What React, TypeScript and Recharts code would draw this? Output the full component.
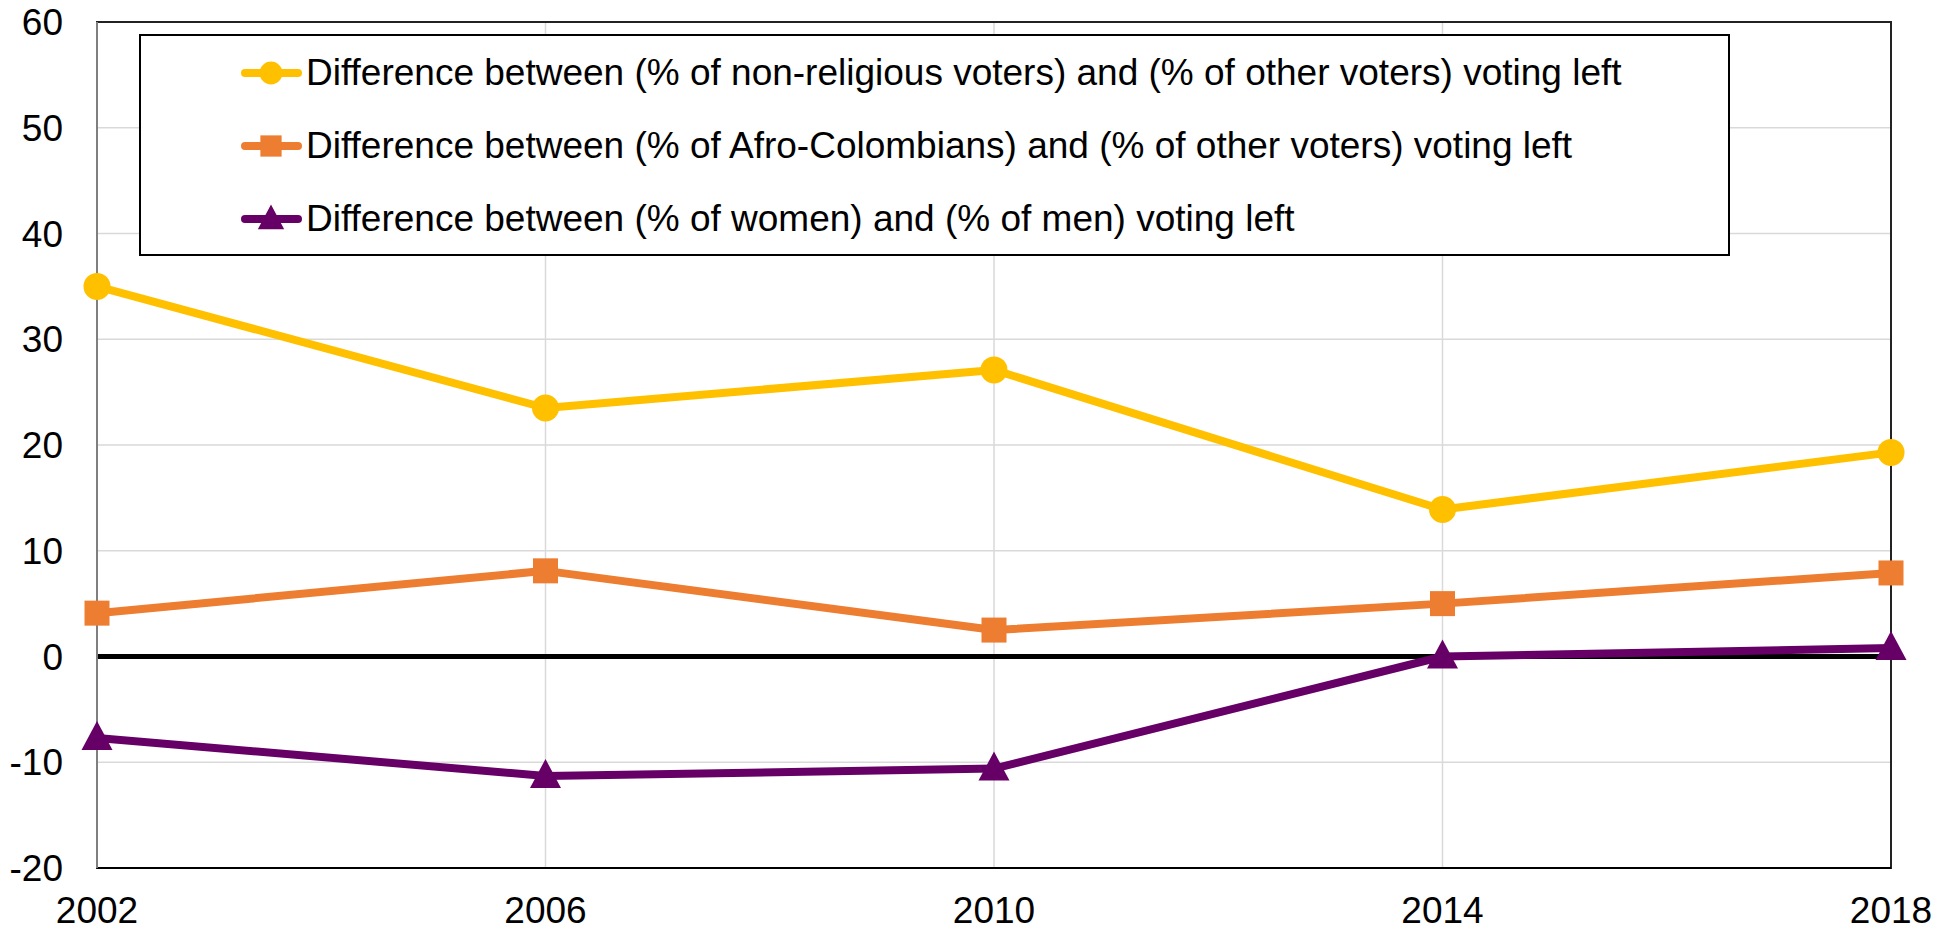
import React from 'react';
import {
  LineChart,
  Line,
  XAxis,
  YAxis,
  CartesianGrid,
  ReferenceLine,
  ReferenceArea,
  Legend,
} from 'recharts';

const years = [2002, 2006, 2010, 2014, 2018];
const nonReligious = [35, 23.5, 27.1, 13.9, 19.3];
const afroColombians = [4.1, 8.1, 2.5, 5.0, 7.9];
const women = [-7.7, -11.3, -10.6, 0.0, 0.8];
const yTicks = [-20, -10, 0, 10, 20, 30, 40, 50, 60];

const seriesNames = [
  'Difference between (% of non-religious voters) and (% of other voters) voting left',
  'Difference between (% of Afro-Colombians) and (% of other voters) voting left',
  'Difference between (% of women) and (% of men) voting left',
];
const seriesColors = ['#FFC000', '#ED7D31', '#660066'];
const seriesKeys = ['nonReligious', 'afro', 'women'];

const data = years.map((year, i) => ({
  year,
  nonReligious: nonReligious[i],
  afro: afroColombians[i],
  women: women[i],
}));

const FONT = '"Liberation Sans", Arial, sans-serif';

// marker shapes, same look as the Excel original
function Marker({ kind, cx, cy, color, s = 1 }: { kind: number; cx: number; cy: number; color: string; s?: number }) {
  if (kind === 0) return <circle cx={cx} cy={cy} r={13.5 * s} fill={color} />;
  if (kind === 1) return <rect x={cx - 12.5 * s} y={cy - 12.5 * s} width={25 * s} height={25 * s} fill={color} />;
  return (
    <polygon
      points={`${cx},${cy - 17 * s} ${cx - 15.5 * s},${cy + 12 * s} ${cx + 15.5 * s},${cy + 12 * s}`}
      fill={color}
    />
  );
}

const LegendBox = () => (
  <div
    style={{
      width: '100%',
      height: '100%',
      boxSizing: 'border-box',
      border: '2px solid #000',
      background: '#fff',
      fontFamily: FONT,
    }}
  >
    {seriesNames.map((name, i) => (
      <div key={name} style={{ height: 73, display: 'flex', alignItems: 'center' }}>
        <svg width={61} height={40} style={{ marginLeft: 100, marginRight: 4, flexShrink: 0 }}>
          <line x1={4} y1={20} x2={57} y2={20} stroke={seriesColors[i]} strokeWidth={8} strokeLinecap="round" />
          <Marker kind={i} cx={30} cy={20} color={seriesColors[i]} s={0.85} />
        </svg>
        <span style={{ fontSize: 37, color: '#000', whiteSpace: 'nowrap' }}>{name}</span>
      </div>
    ))}
  </div>
);

export default function App() {
  return (
    <div style={{ position: 'absolute', left: 0, top: 0, background: '#fff' }}>
      <LineChart width={1954} height={932} data={data} margin={{ top: 22, right: 63, bottom: 0, left: 0 }}>
        <CartesianGrid stroke="#d9d9d9" strokeWidth={1.5} />
        <XAxis
          dataKey="year"
          type="number"
          domain={[2002, 2018]}
          ticks={years}
          height={64}
          tickSize={0}
          tickMargin={29}
          axisLine={{ stroke: '#000', strokeWidth: 2 }}
          tick={{ fontSize: 37, fill: '#000', fontFamily: FONT }}
        />
        <YAxis
          domain={[-20, 60]}
          ticks={yTicks}
          width={97}
          tickSize={0}
          tickMargin={34}
          axisLine={{ stroke: '#7f7f7f', strokeWidth: 2 }}
          tick={{ fontSize: 37, fill: '#000', fontFamily: FONT }}
        />
        <ReferenceArea x1={2002} x2={2018} y1={-20} y2={60} fill="none" stroke="#222" strokeWidth={2} />
        <ReferenceLine y={0} stroke="#000" strokeWidth={5} />
        {seriesKeys.map((key, i) => (
          <Line
            key={key}
            dataKey={key}
            name={seriesNames[i]}
            stroke={seriesColors[i]}
            strokeWidth={8}
            strokeLinecap="round"
            strokeLinejoin="round"
            isAnimationActive={false}
            dot={(p: any) => <Marker key={`${key}-${p.index}`} kind={i} cx={p.cx} cy={p.cy} color={seriesColors[i]} />}
            activeDot={false}
          />
        ))}
        <Legend
          layout="vertical"
          align="center"
          verticalAlign="middle"
          content={() => <LegendBox />}
          wrapperStyle={{ left: 139, top: 34, width: 1591, height: 222 }}
        />
      </LineChart>
    </div>
  );
}
